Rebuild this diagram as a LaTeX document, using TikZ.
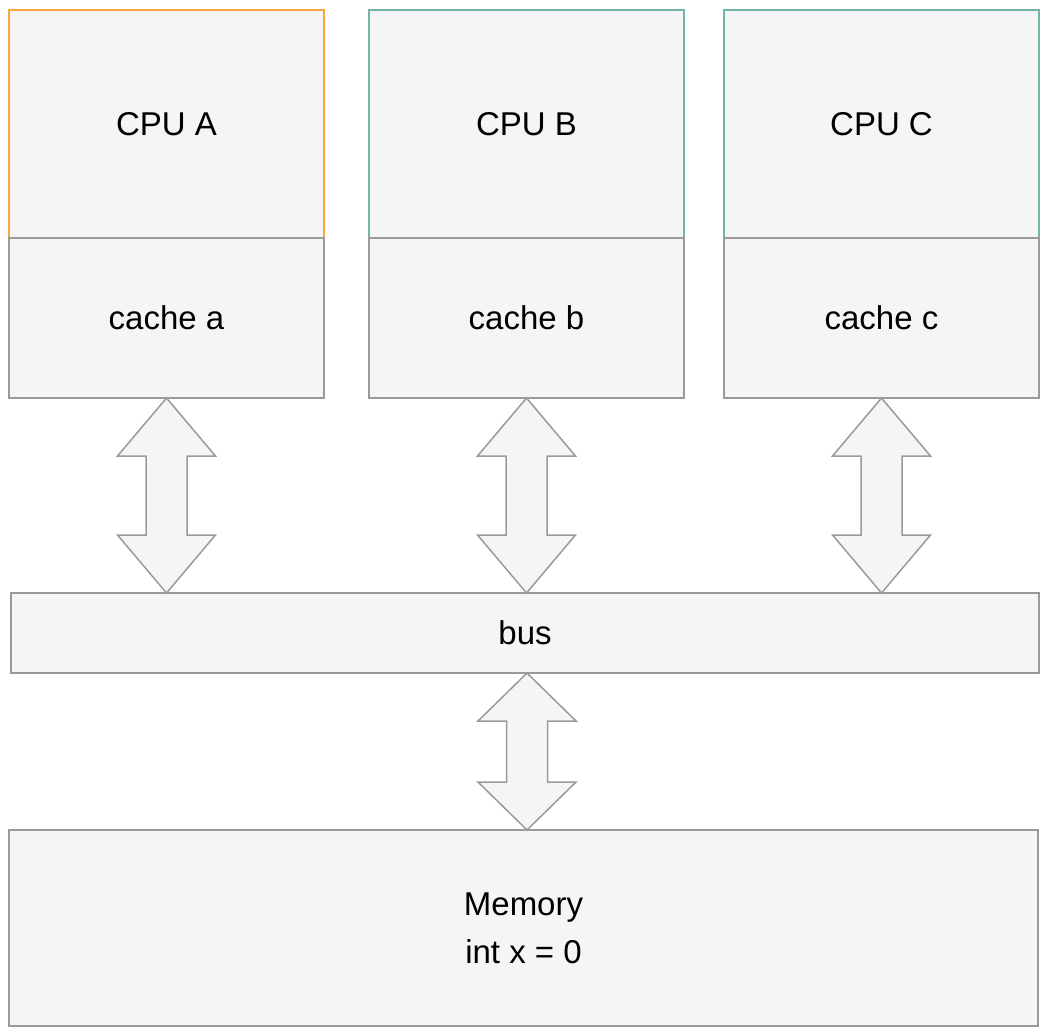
\documentclass[tikz,border=0pt]{standalone}
\usepackage{fontspec}
\setmainfont{Liberation Sans}
\usepackage{tikz}
\usetikzlibrary{positioning, calc}
\definecolor{boxfill}{HTML}{F5F5F5}
\definecolor{boxline}{HTML}{9A9A9A}
\definecolor{cpuorange}{HTML}{F7A541}
\definecolor{cputeal}{HTML}{72B4A7}

\tikzset{
  unit/.style={draw=boxline, fill=boxfill, line width=0.75pt, outer sep=0pt,
    inner sep=0pt, font=\fontsize{16.5}{24}\selectfont, align=center},
  cpubox/.style={unit, anchor=north west, minimum width=315*0.5pt, minimum height=228*0.5pt},
  cachebox/.style={unit, minimum width=315*0.5pt, minimum height=160*0.5pt},
  widebox/.style={unit, anchor=north west},
  fatarrow/.style={draw=boxline, fill=boxfill, line width=0.75pt, line join=miter}
}

% two-headed block arrow from #1 (top) to #2 (bottom), head length #3
\newcommand{\blockarrow}[3]{%
  \draw[fatarrow] (#1) -- ($(#1)+(49,#3)$) -- ($(#1)+(20.5,#3)$)
    -- ($(#2)+(20.5,-#3)$) -- ($(#2)+(49,-#3)$) -- (#2)
    -- ($(#2)+(-49,-#3)$) -- ($(#2)+(-20.5,-#3)$)
    -- ($(#1)+(-20.5,#3)$) -- ($(#1)+(-49,#3)$) -- cycle;}

\begin{document}
\begin{tikzpicture}[x=0.5pt, y=-0.5pt]
  \useasboundingbox (0,0) rectangle (1048,1034);

  % processors with their caches
  \foreach \name/\low/\xpos/\col in {A/a/9/cpuorange, B/b/369/cputeal, C/c/724/cputeal}{
    \node[cpubox, draw=\col] (cpu\name) at (\xpos,10) {CPU \name};
    \node[cachebox, below=0pt of cpu\name] (cache\name) {cache \low};
  }

  \node[widebox, minimum width=1028*0.5pt, minimum height=80*0.5pt] (bus) at (11,593) {bus};
  \node[widebox, minimum width=1029*0.5pt, minimum height=196*0.5pt] (mem) at (9,830)
    {Memory\\int x = 0};

  % links to the bus
  \foreach \name in {A, B, C}{
    \coordinate (top\name) at (cache\name.south);
    \coordinate (bot\name) at (cache\name.south |- bus.north);
    \blockarrow{top\name}{bot\name}{58}
  }
  \coordinate (busout) at (527,673);
  \coordinate (memin) at (busout |- mem.north);
  \blockarrow{busout}{memin}{48}
\end{tikzpicture}
\end{document}
